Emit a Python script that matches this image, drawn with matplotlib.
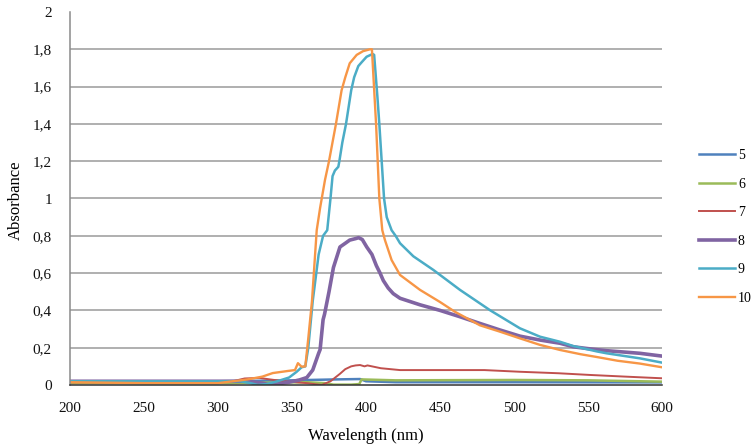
import matplotlib
matplotlib.use("Agg")
import matplotlib.pyplot as plt

# Absorbance spectra
wl5 = [200, 300, 350, 380, 396, 400, 420, 500, 600]
a5 = [0.02, 0.02, 0.025, 0.03, 0.032, 0.02, 0.015, 0.015, 0.014]

wl6 = [200, 300, 360, 372, 378, 390, 395.5, 397, 420, 500, 550, 600]
a6 = [0.01, 0.01, 0.015, 0.01, 0.002, 0.002, 0.005, 0.03, 0.025, 0.027, 0.025, 0.018]

wl7 = [200, 250, 300, 310, 318, 328, 335, 345, 360, 370, 376, 382.4, 386, 390,
       393, 396, 399, 401, 404, 410, 423, 450, 480, 504, 530, 551, 575, 600]
a7 = [0.015, 0.015, 0.015, 0.02, 0.035, 0.038, 0.03, 0.02, 0.01, 0.0, 0.02, 0.06, 0.085, 0.1,
      0.105, 0.107, 0.1, 0.105, 0.1, 0.09, 0.08, 0.08, 0.08, 0.071, 0.063, 0.054, 0.045, 0.036]

wl8 = [200, 250, 300, 320, 330, 335, 340, 348, 355, 360, 364, 368, 369, 371, 372, 375, 378,
       382.4, 386, 389, 393, 395, 397.5, 400.5, 404, 407, 409.5, 411.7, 415, 418.4, 423,
       436.5, 450, 463.5, 477, 490.5, 504, 517.6, 531, 540, 550, 562.6, 585, 600]
a8 = [0.02, 0.02, 0.02, 0.02, 0.01, 0.0, 0.005, 0.015, 0.027, 0.04, 0.08, 0.17, 0.19, 0.35, 0.38, 0.5, 0.63,
      0.74, 0.76, 0.777, 0.785, 0.79, 0.78, 0.74, 0.7, 0.64, 0.6, 0.56, 0.52, 0.49, 0.465,
      0.43, 0.40, 0.366, 0.33, 0.295, 0.262, 0.241, 0.224, 0.205, 0.195, 0.184, 0.17, 0.155]

wl9 = [200, 250, 300, 315, 322, 327, 333, 340, 348, 353, 356.5, 359, 361, 364, 368, 371,
       373.8, 376, 377.4, 379, 381.3, 382, 384, 386.5, 390, 392, 394.8, 397, 400.4, 404.5,
       405.5, 407.7, 409, 410.6, 412.2, 414, 417.3, 420, 423, 432, 445.5, 463.5, 484, 504,
       517.6, 531, 540, 556, 562.6, 585, 600]
a9 = [0.02, 0.02, 0.02, 0.02, 0.01, 0.0, 0.005, 0.02, 0.04, 0.07, 0.095, 0.1, 0.2, 0.45, 0.7, 0.8,
      0.83, 1.0, 1.12, 1.15, 1.17, 1.2, 1.3, 1.4, 1.58, 1.65, 1.71, 1.73, 1.76, 1.775,
      1.77, 1.546, 1.4, 1.2, 1.0, 0.9, 0.83, 0.8, 0.76, 0.69, 0.617, 0.51, 0.40, 0.304,
      0.259, 0.232, 0.209, 0.18, 0.17, 0.143, 0.12]

wl10 = [200, 250, 300, 310, 320, 330, 337, 347, 352, 354, 356.5, 359, 361, 363.5, 366.7, 369,
        372.3, 375, 379.7, 383.5, 386, 389, 393.7, 398, 402.7, 404, 406.8, 409, 411, 412.8,
        417.3, 423, 436.5, 450, 460, 477, 490.5, 504, 517.6, 531, 545, 556, 570, 585, 600]
a10 = [0.015, 0.01, 0.01, 0.02, 0.03, 0.045, 0.064, 0.075, 0.08, 0.117, 0.098, 0.1, 0.25, 0.45, 0.83, 0.95,
       1.1, 1.2, 1.4, 1.58, 1.65, 1.725, 1.77, 1.79, 1.8, 1.8, 1.4, 1.0, 0.83, 0.777,
       0.67, 0.59, 0.51, 0.445, 0.393, 0.32, 0.286, 0.25, 0.215, 0.188, 0.165, 0.15, 0.13, 0.115, 0.095]

labels = ["5", "6", "7", "8", "9", "10"]
colors = ["#4F81BD", "#9BBB59", "#C0504D", "#8064A2", "#4BACC6", "#F79646"]
widths = [1.8, 1.8, 1.4, 2.6, 1.8, 1.7]

yticks = [0, 0.2, 0.4, 0.6, 0.8, 1, 1.2, 1.4, 1.6, 1.8, 2]
xticks = [200, 250, 300, 350, 400, 450, 500, 550, 600]

plt.rcParams['font.family'] = ['Liberation Serif', 'DejaVu Serif']

fig = plt.figure(figsize=(7.56, 4.48), dpi=100)
ax = fig.add_axes([70 / 756, 63 / 448, 592 / 756, 373 / 448])

series = [(wl5, a5), (wl6, a6), (wl7, a7), (wl8, a8), (wl9, a9), (wl10, a10)]
for (wl, a), lab, c, lw in zip(series, labels, colors, widths):
    ax.plot(wl, a, color=c, lw=lw, label=lab, solid_joinstyle='round')

ax.set_xlim(200, 600)
ax.set_ylim(0, 2)
ax.set_xticks(xticks)
ax.set_xticklabels([str(t) for t in xticks])
ax.set_yticks(yticks)
ax.set_yticklabels([("%g" % t).replace(".", ",") for t in yticks])
ax.tick_params(length=0, labelsize=11, colors="#111111")
ax.tick_params(axis='y', pad=13)
ax.tick_params(axis='x', pad=12)

# horizontal grid only, none on the top edge
for t in yticks[1:-1]:
    ax.axhline(t, color="#9a9a9a", lw=1.1, zorder=0)

for s in ["top", "right"]:
    ax.spines[s].set_visible(False)
ax.spines["left"].set_color("#8a8a8a")
ax.spines["left"].set_linewidth(1.1)
ax.spines["bottom"].set_color("#333333")
ax.spines["bottom"].set_linewidth(1.1)

fig.text(366 / 756, 1 - 436 / 448, "Wavelength (nm)", fontsize=12, ha="center", va="center")
fig.text(16 / 756, 1 - 200 / 448, "Absorbance", fontsize=12, ha="center", va="center",
         rotation=90)

fig.legend(loc="upper left", bbox_to_anchor=(699 / 756, 1 - 149 / 448), frameon=False,
           fontsize=10, handlelength=2.6, handletextpad=0.2, labelspacing=1.12,
           borderpad=0, borderaxespad=0)

fig.savefig("out.png", dpi=100)
